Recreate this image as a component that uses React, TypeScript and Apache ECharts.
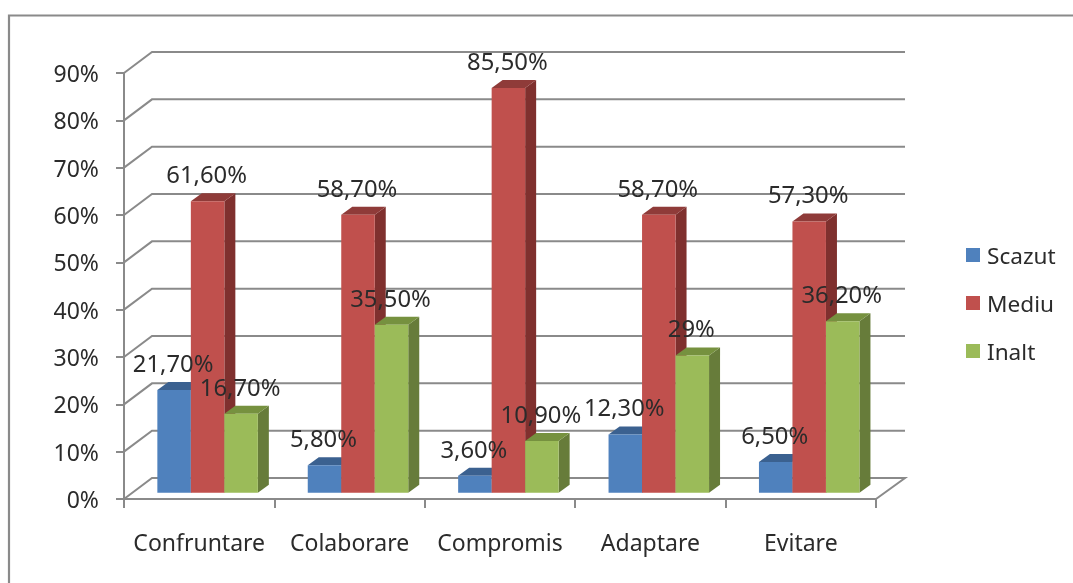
import React, { useEffect, useRef } from "react";
import * as echarts from "echarts";

const categories = ["Confruntare", "Colaborare", "Compromis", "Adaptare", "Evitare"];
const scazutValues = [21.7, 5.8, 3.6, 12.3, 6.5];
const mediuValues = [61.6, 58.7, 85.5, 58.7, 57.3];
const inaltValues = [16.7, 35.5, 10.9, 29, 36.2];
const scazutLabels = ["21,70%", "5,80%", "3,60%", "12,30%", "6,50%"];
const mediuLabels = ["61,60%", "58,70%", "85,50%", "58,70%", "57,30%"];
const inaltLabels = ["16,70%", "35,50%", "10,90%", "29%", "36,20%"];
const yTicks = [0, 10, 20, 30, 40, 50, 60, 70, 80, 90];

const FONT = "'Noto Sans', sans-serif";
const FONT_SIZE = 23;
const LABEL_SIZE = 23.8;
const TEXT = "#2b2b2b";
const GRAY = "#8a8a8a";
const WALL_DX = 28;
const WALL_DY = -21;

function barSeries(name: string, values: number[], labels: string[], slot: number, front: string, top: string, side: string) {
  return {
    type: "custom",
    name,
    silent: true,
    clip: false,
    itemStyle: { color: front },
    encode: { x: 0, y: 1 },
    data: values.map((v, i) => [i, v, labels[i]]),
    renderItem: (_p: any, api: any) => {
      const i = api.value(0);
      const v = api.value(1);
      const base = api.coord([i, 0]);
      const tip = api.coord([i, v]);
      const w = (api.size([1, 0])[0] * 33.5) / 150.4;
      const cx = base[0] + 8.4 + slot * w;
      const l = cx - w / 2;
      const r = cx + w / 2;
      const b = base[1] - 6.3;
      const t = tip[1] - 6.3;
      const dx = 11;
      const dy = -8;
      return {
        type: "group",
        children: [
          { type: "polygon", shape: { points: [[r, t], [r + dx, t + dy], [r + dx, b + dy], [r, b]] }, style: { fill: side } },
          { type: "polygon", shape: { points: [[l, t], [l + dx, t + dy], [r + dx, t + dy], [r, t]] }, style: { fill: top } },
          { type: "rect", shape: { x: l, y: t, width: w, height: b - t }, style: { fill: front } },
          {
            type: "text",
            z2: 100,
            x: cx - 1,
            y: t - 27,
            style: { text: api.value(2), fill: TEXT, font: `${LABEL_SIZE}px ${FONT}`, textAlign: "center", textVerticalAlign: "middle" },
          },
        ],
      };
    },
  };
}

export default function App() {
  const ref = useRef<HTMLDivElement>(null);
  useEffect(() => {
    document.body.style.margin = "0";
    const chart = echarts.init(ref.current!, undefined, { renderer: "svg" });
    chart.setOption({
      animation: false,
      backgroundColor: "#ffffff",
      color: ["#4F81BD", "#C0504D", "#9BBB59"],
      grid: { left: 124, right: 197, top: 73, bottom: 84 },
      graphic: [
        {
          type: "polyline",
          shape: { points: [[9, 583], [9, 15.5], [1073, 15.5]] },
          style: { stroke: GRAY, lineWidth: 2.2, fill: "none" },
        },
      ],
      legend: {
        orient: "vertical",
        left: 961,
        top: 235,
        itemWidth: 14,
        itemHeight: 14,
        itemGap: 18,
        icon: "rect",
        data: ["Scazut", "Mediu", "Inalt"],
        textStyle: { fontFamily: FONT, fontSize: 22.6, color: TEXT, padding: [0, 0, 0, 2], lineHeight: 30 },
      },
      xAxis: {
        type: "category",
        data: categories,
        boundaryGap: true,
        axisLine: { show: true, lineStyle: { color: GRAY, width: 2 } },
        axisTick: { show: true, length: 9, alignWithLabel: false, lineStyle: { color: GRAY, width: 2 } },
        axisLabel: { fontFamily: FONT, fontSize: FONT_SIZE, color: TEXT, margin: 31, interval: 0 },
        splitLine: { show: false },
      },
      yAxis: {
        type: "value",
        min: 0,
        max: 90,
        interval: 10,
        axisLine: { show: true, lineStyle: { color: GRAY, width: 2 } },
        axisTick: { show: true, length: 8, lineStyle: { color: GRAY, width: 2 } },
        axisLabel: { fontFamily: FONT, fontSize: FONT_SIZE, color: TEXT, margin: 25, formatter: "{value}%" },
        splitLine: { show: false },
      },
      series: [
        {
          type: "custom",
          name: "wall",
          silent: true,
          clip: false,
          encode: { y: 0 },
          data: yTicks.map((t) => [t]),
          renderItem: (p: any, api: any) => {
            const t = api.value(0);
            const a = api.coord([0, t]);
            const cs = p.coordSys;
            const x0 = cs.x;
            const x1 = cs.x + cs.width;
            return {
              type: "polyline",
              shape: { points: [[x0, a[1]], [x0 + WALL_DX, a[1] + WALL_DY], [x1 + 29, a[1] + WALL_DY]].concat(t === 0 ? [[x1, a[1]]] : []) },
              style: { stroke: GRAY, lineWidth: 2, fill: "none" },
            };
          },
        },
        barSeries("Scazut", scazutValues, scazutLabels, -1, "#4F81BD", "#3B6190", "#3A5F8C"),
        barSeries("Mediu", mediuValues, mediuLabels, 0, "#C0504D", "#8F3B39", "#7F302E"),
        barSeries("Inalt", inaltValues, inaltLabels, 1, "#9BBB59", "#76913F", "#677C3A"),
      ],
    });
    return () => chart.dispose();
  }, []);
  return <div ref={ref} style={{ width: 1073, height: 583, filter: "blur(0.4px)" }} />;
}
